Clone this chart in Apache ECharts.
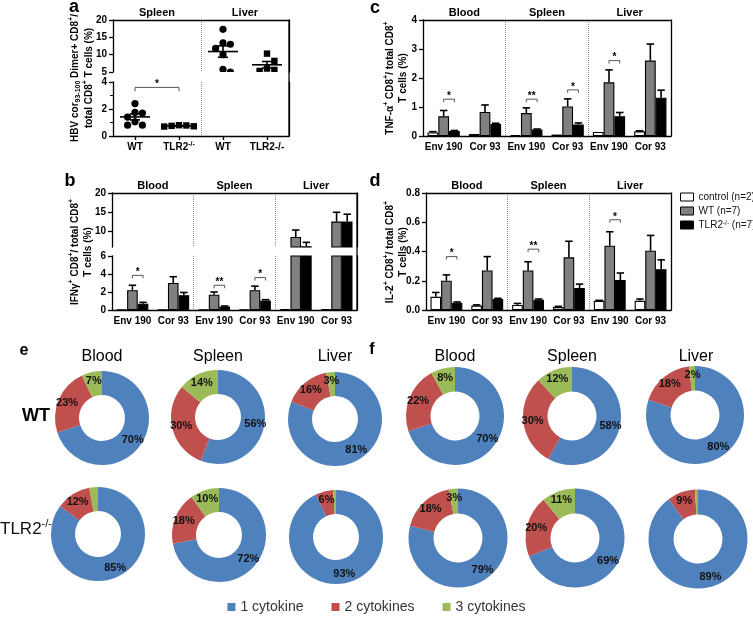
<!DOCTYPE html>
<html><head><meta charset="utf-8">
<script src="https://cdn.jsdelivr.net/npm/echarts@6/dist/echarts.min.js"></script>
<style>html,body{margin:0;padding:0;background:#fff}#c{width:753px;height:623px}</style>
</head><body><div id="c"></div>
<script>
// ---------------- DATA ----------------
// panel a (dimer+ CD8+ T cells, %)
const aTissues = ['Spleen', 'Liver'];
const aGroups = ['WT', 'TLR2-/-'];
const aSpleenWT = [2.4, 1.75, 1.7, 1.4, 1.05, 0.8, 0.8];
const aSpleenTLR2 = [0.8, 0.78, 0.75, 0.72, 0.7];
const aLiverWT = [17.3, 13.4, 13.0, 11.8, 10.0, 5.8, 5.0];
const aLiverTLR2 = [10.3, 8.2, 6.0, 5.6, 5.3];
const aSig = [[0, 1, 3.6, '*']];

// panels b-d
const tissues = ['Blood', 'Spleen', 'Liver'];
const peptides = ['Env 190', 'Cor 93'];
const seriesNames = ['control (n=2)', 'WT (n=7)', 'TLR2-/- (n=7)'];

// b: IFN-gamma
const ifnControl = [0.05, 0.05, 0.05, 0.05, 0.1, 0.1];
const ifnControlErr = [0, 0, 0, 0, 0, 0];
const ifnWT = [2.2, 3.0, 1.7, 2.2, 8.6, 12.6];
const ifnWTErr = [0.55, 0.7, 0.3, 0.45, 1.8, 2.4];
const ifnTLR2 = [0.7, 1.65, 0.4, 1.05, 6.2, 12.6];
const ifnTLR2Err = [0.15, 0.3, 0.05, 0.1, 1.0, 1.9];
const ifnSig = [[0, 3.85, '*'], [2, 2.75, '**'], [3, 3.6, '*']];

// c: TNF-alpha
const tnfControl = [0.12, 0.07, 0.03, 0.05, 0.14, 0.16];
const tnfControlErr = [0.03, 0, 0, 0, 0, 0.02];
const tnfWT = [0.68, 0.83, 0.79, 1.02, 1.85, 2.6];
const tnfWTErr = [0.2, 0.24, 0.18, 0.26, 0.43, 0.57];
const tnfTLR2 = [0.17, 0.41, 0.22, 0.4, 0.68, 1.32];
const tnfTLR2Err = [0.02, 0.03, 0.02, 0.05, 0.13, 0.26];
const tnfSig = [[0, 1.27, '*'], [2, 1.27, '**'], [3, 1.59, '*'], [4, 2.6, '*']];

// d: IL-2
const il2Control = [0.09, 0.03, 0.035, 0.02, 0.063, 0.063];
const il2ControlErr = [0.03, 0.005, 0.01, 0.005, 0.003, 0.012];
const il2WT = [0.2, 0.27, 0.27, 0.36, 0.44, 0.405];
const il2WTErr = [0.04, 0.095, 0.06, 0.11, 0.095, 0.105];
const il2TLR2 = [0.05, 0.075, 0.07, 0.15, 0.205, 0.278];
const il2TLR2Err = [0.005, 0.005, 0.005, 0.027, 0.048, 0.065];
const il2Sig = [[0, 0.365, '*'], [2, 0.416, '**'], [4, 0.617, '*']];

// e / f pies: [1 cytokine, 2 cytokines, 3 cytokines] for Blood, Spleen, Liver
const cytoNames = ['1 cytokine', '2 cytokines', '3 cytokines'];
const eWT = [[70, 23, 7], [56, 30, 14], [81, 16, 3]];
const eTLR2 = [[85, 12, 3], [72, 18, 10], [93, 6, 1]];
const fWT = [[70, 22, 8], [58, 30, 12], [80, 18, 2]];
const fTLR2 = [[79, 18, 3], [69, 20, 11], [89, 9, 1]];

// ---------------- HELPERS ----------------
const F = "'Liberation Sans', Arial, Helvetica, sans-serif";
const pieColors = ['#4f81bd', '#c0504d', '#9bbb59'];
const aCats = aTissues.flatMap(t => aGroups.map(g => t + '|' + g));
const aData = [aSpleenWT, aSpleenTLR2, aLiverWT, aLiverTLR2];
const barCats = tissues.flatMap(t => peptides.map(p => t + '|' + p));
const CAT_GAP = 0.22;

const mean = a => a.reduce((s, v) => s + v, 0) / a.length;
const sem = a => { const m = mean(a); return Math.sqrt(a.reduce((s, v) => s + (v - m) * (v - m), 0) / (a.length - 1)) / Math.sqrt(a.length); };

function swarm(ys, d) {
  const placed = [], offs = [];
  const cand = [0, 1, -1, 2, -2, 3, -3].map(m => m * d);
  ys.forEach(y => {
    let best = cand[cand.length - 1];
    for (const o of cand) {
      if (placed.every(p => Math.hypot(p[0] - o, p[1] - y) >= d)) { best = o; break; }
    }
    placed.push([best, y]); offs.push(best);
  });
  return offs;
}

const AX = '#000';
const divider = { show: true, interval: i => i % 2 === 0, lineStyle: { color: '#888', type: 'dotted', width: 1 } };
const RICH_E = { sup: { fontSize: 7, fontWeight: 'bold', fontFamily: F, color: '#000', verticalAlign: 'top', lineHeight: 6 } };

function xHidden(grid, data) {
  return { type: 'category', gridIndex: grid, data, position: 'bottom',
    axisLine: { show: false }, axisTick: { show: false }, axisLabel: { show: false }, splitLine: divider };
}
function xTop(grid, data) {
  return { type: 'category', gridIndex: grid, data, position: 'top',
    axisLine: { show: true, onZero: false, lineStyle: { color: AX, width: 1.3 } },
    axisTick: { show: false },
    axisLabel: { margin: 2, fontFamily: F, fontSize: 11, fontWeight: 'bold', color: '#000' },
    splitLine: { show: false } };
}
function xBottom(grid, data, fmt, ticks) {
  return { type: 'category', gridIndex: grid, data, position: 'bottom',
    axisLine: { show: true, onZero: false, lineStyle: { color: AX, width: 1.3 } },
    axisTick: { show: ticks, alignWithLabel: true, length: 4, lineStyle: { color: AX, width: 1.3 } },
    axisLabel: { margin: 5, interval: 0, fontFamily: F, fontSize: 10, fontWeight: 'bold', color: '#000', lineHeight: 13, formatter: fmt, rich: RICH_E },
    splitLine: divider };
}
function yLeft(grid, min, max, interval, opts) {
  opts = opts || {};
  const lab = Object.assign({ margin: 6, fontFamily: F, fontSize: 10, fontWeight: 'bold', color: '#000' }, opts.label || {});
  const tick = Object.assign({ show: true, length: 4, lineStyle: { color: AX, width: 1.3 } }, opts.tick || {});
  const ax = { type: 'value', gridIndex: grid, min, max, position: 'left',
    axisLine: { show: true, onZero: false, lineStyle: { color: AX, width: 1.3 } },
    axisTick: tick, axisLabel: lab, splitLine: { show: false } };
  if (interval !== undefined) ax.interval = interval;
  if (opts.minor) ax.minorTick = { show: true, splitNumber: 2, length: 3, lineStyle: { color: AX, width: 1 } };
  return ax;
}
function yRight(grid, min, max) {
  return { type: 'value', gridIndex: grid, min, max, position: 'right',
    axisLine: { show: true, onZero: false, lineStyle: { color: AX, width: 1.3 } },
    axisTick: { show: false }, axisLabel: { show: false }, splitLine: { show: false } };
}

// ---- panel a series ----
function pointSeries(xIdx, yIdx, lo, hi) {
  const d = [];
  aData.forEach((arr, c) => arr.forEach((v, k) => { if (v >= lo && v <= hi) d.push([c, v, k]); }));
  return { type: 'custom', xAxisIndex: xIdx, yAxisIndex: yIdx, silent: true, clip: true, z: 5,
    encode: { x: 0, y: 1 }, data: d,
    renderItem(params, api) {
      const c = api.value(0), v = api.value(1), k = api.value(2);
      const ys = aData[c].map(u => api.coord([c, u])[1]);
      const off = swarm(ys, 7.4)[k];
      const p = api.coord([c, v]);
      const x = p[0] + off;
      if (c % 2 === 0) return { type: 'circle', shape: { cx: x, cy: p[1], r: 3.6 }, style: { fill: '#000' } };
      return { type: 'rect', shape: { x: x - 3.2, y: p[1] - 3.2, width: 6.4, height: 6.4 }, style: { fill: '#000' } };
    } };
}
function meanSeries(xIdx, yIdx, lo, hi) {
  const d = [];
  aData.forEach((arr, c) => { const m = mean(arr); if (m >= lo && m <= hi) d.push([c, m, sem(arr)]); });
  return { type: 'custom', xAxisIndex: xIdx, yAxisIndex: yIdx, silent: true, clip: true, z: 6,
    encode: { x: 0, y: 1 }, data: d,
    renderItem(params, api) {
      const c = api.value(0), m = api.value(1), s = api.value(2);
      const pm = api.coord([c, m]), pt = api.coord([c, m + s]), pb = api.coord([c, m - s]);
      const st = { stroke: '#000', lineWidth: 1.6 };
      return { type: 'group', children: [
        { type: 'line', shape: { x1: pm[0] - 15, y1: pm[1], x2: pm[0] + 15, y2: pm[1] }, style: st },
        { type: 'line', shape: { x1: pm[0], y1: pt[1], x2: pm[0], y2: pb[1] }, style: st },
        { type: 'line', shape: { x1: pm[0] - 5, y1: pt[1], x2: pm[0] + 5, y2: pt[1] }, style: st },
        { type: 'line', shape: { x1: pm[0] - 5, y1: pb[1], x2: pm[0] + 5, y2: pb[1] }, style: st }
      ] };
    } };
}
function aSigSeries(xIdx, yIdx) {
  return { type: 'custom', xAxisIndex: xIdx, yAxisIndex: yIdx, silent: true, z: 6,
    encode: { x: 0, y: 2 }, data: aSig.map(s => [s[0], s[1], s[2]]),
    renderItem(params, api) {
      const p1 = api.coord([api.value(0), api.value(2)]), p2 = api.coord([api.value(1), api.value(2)]);
      const y = p1[1];
      return { type: 'group', children: [
        { type: 'polyline', shape: { points: [[p1[0], y + 4], [p1[0], y], [p2[0], y], [p2[0], y + 4]] }, style: { stroke: '#555', lineWidth: 1, fill: null } },
        { type: 'text', x: (p1[0] + p2[0]) / 2, y: y + 2, style: { text: aSig[params.dataIndex][3], fontSize: 10, fontWeight: 'bold', fontFamily: F, fill: '#000', align: 'center', verticalAlign: 'bottom' } }
      ] };
    } };
}

// ---- bar panel series ----
const barStyles = [
  { color: '#ffffff', borderColor: '#000', borderWidth: 1.1 },
  { color: '#808080', borderColor: '#000', borderWidth: 1.1 },
  { color: '#000000', borderColor: '#000', borderWidth: 1.1 }
];
function barPanel(xIdx, yIdx, vals, errs, sig, lo) {
  const out = [];
  vals.forEach((arr, s) => out.push({ type: 'bar', name: seriesNames[s], xAxisIndex: xIdx, yAxisIndex: yIdx,
    data: arr, barGap: '0%', barCategoryGap: (CAT_GAP * 100) + '%', itemStyle: barStyles[s], silent: true, z: 2 }));
  const eb = [];
  vals.forEach((arr, s) => arr.forEach((v, i) => { if (errs[s][i] > 0 && v + errs[s][i] > lo) eb.push([i, v, errs[s][i], s]); }));
  out.push({ type: 'custom', xAxisIndex: xIdx, yAxisIndex: yIdx, silent: true, clip: true, z: 3,
    encode: { x: 0, y: 1 }, data: eb,
    renderItem(params, api) {
      const c = api.value(0), v = api.value(1), e = api.value(2), s = api.value(3);
      const w = api.size([1, 0])[0] * (1 - CAT_GAP) / 3;
      const cx = api.coord([c, v])[0] + (s - 1) * w;
      const y0 = api.coord([c, v])[1], y1 = api.coord([c, v + e])[1];
      const st = { stroke: '#000', lineWidth: 1.6 };
      return { type: 'group', children: [
        { type: 'line', shape: { x1: cx, y1: y0, x2: cx, y2: y1 }, style: st },
        { type: 'line', shape: { x1: cx - w * 0.35, y1: y1, x2: cx + w * 0.35, y2: y1 }, style: st }
      ] };
    } });
  if (sig) {
    out.push({ type: 'custom', xAxisIndex: xIdx, yAxisIndex: yIdx, silent: true, z: 4,
      encode: { x: 0, y: 1 }, data: sig.map(s => [s[0], s[1]]),
      renderItem(params, api) {
        const c = api.value(0), y = api.value(1);
        const w = api.size([1, 0])[0] * (1 - CAT_GAP) / 3;
        const p = api.coord([c, y]);
        const x1 = p[0], x2 = p[0] + w, yy = p[1];
        return { type: 'group', children: [
          { type: 'polyline', shape: { points: [[x1, yy + 3], [x1, yy], [x2, yy], [x2, yy + 3]] }, style: { stroke: '#555', lineWidth: 1, fill: null } },
          { type: 'text', x: (x1 + x2) / 2, y: yy + 2, style: { text: sig[params.dataIndex][2], fontSize: 10, fontWeight: 'bold', fontFamily: F, fill: '#000', align: 'center', verticalAlign: 'bottom' } }
        ] };
      } });
  }
  return out;
}

// ---- pies ----
function pie(vals, center, radius) {
  return { type: 'pie', center, radius, startAngle: 90, clockwise: true, silent: true,
    data: vals.map((v, i) => ({ name: cytoNames[i], value: v, itemStyle: { color: pieColors[i] } })),
    label: { show: true, position: 'inside', formatter: '{c}%', fontFamily: F, fontSize: 11, fontWeight: 'bold', color: '#111' },
    labelLine: { show: false }, emphasis: { disabled: true } };
}

// ---- texts ----
const RT = {
  b: { fontSize: 10, fontWeight: 'bold', fontFamily: F, lineHeight: 14, fill: '#000' },
  sp: { fontSize: 7, fontWeight: 'bold', fontFamily: F, lineHeight: 6, verticalAlign: 'top', fill: '#000' },
  sb: { fontSize: 7, fontWeight: 'bold', fontFamily: F, lineHeight: 6, verticalAlign: 'bottom', fill: '#000' },
  n: { fontSize: 17, fontWeight: 'normal', fontFamily: F, lineHeight: 22, fill: '#111' },
  ns: { fontSize: 11, fontWeight: 'normal', fontFamily: F, lineHeight: 10, verticalAlign: 'top', fill: '#111' }
};
function T(x, y, text, size, weight) {
  return { type: 'text', x, y, silent: true, style: { text, fontSize: size, fontWeight: weight, fontFamily: F, fill: '#000', align: 'center', verticalAlign: 'middle' } };
}
function VT(x, y, text) {
  return { type: 'text', x, y, rotation: Math.PI / 2, silent: true, style: { text, rich: RT, align: 'center', verticalAlign: 'middle' } };
}
function frameLine(x, y1, y2) {
  return { type: 'line', silent: true, shape: { x1: x, y1, x2: x, y2 }, style: { stroke: '#000', lineWidth: 1.3 } };
}

const barFmt = v => v.split('|')[1];
const aFmt = v => {
  const g = v.split('|')[1];
  if (g === 'TLR2-/-') return v.startsWith('Spleen') ? 'TLR2{sup|-/-}' : 'TLR2-/-';
  return g;
};

// ---------------- OPTION ----------------
const option = {
  animation: false,
  grid: [
    { left: 113, top: 20, width: 176, height: 52 },   // 0 a top
    { left: 113, top: 82, width: 176, height: 54 },   // 1 a bottom
    { left: 423, top: 20, width: 248, height: 116 },  // 2 c
    { left: 112, top: 193, width: 245, height: 54 },  // 3 b top
    { left: 112, top: 256, width: 245, height: 54 },  // 4 b bottom
    { left: 426, top: 193, width: 245, height: 117 }  // 5 d
  ],
  xAxis: [
    xHidden(0, aCats),                 // 0
    xTop(0, aTissues),                 // 1
    xBottom(1, aCats, aFmt, true),     // 2
    xBottom(2, barCats, barFmt, false),// 3
    xTop(2, tissues),                  // 4
    xHidden(3, barCats),               // 5
    xTop(3, tissues),                  // 6
    xBottom(4, barCats, barFmt, false),// 7
    xBottom(5, barCats, barFmt, false),// 8
    xTop(5, tissues)                   // 9
  ],
  yAxis: [
    yLeft(0, 5, 20, 5),                // 0
    yRight(0, 5, 20),                  // 1
    yLeft(1, 0, 4, 2, { minor: true }),// 2
    yRight(1, 0, 4),                   // 3
    yLeft(2, 0, 4, 1),                 // 4
    yRight(2, 0, 4),                   // 5
    yLeft(3, 6, 20, undefined, { label: { customValues: [10, 15, 20] }, tick: { customValues: [10, 15, 20] } }), // 6
    yRight(3, 6, 20),                  // 7
    yLeft(4, 0, 6, 2),                 // 8
    yRight(4, 0, 6),                   // 9
    yLeft(5, 0, 0.8, 0.2, { label: { formatter: v => v.toFixed(1) } }), // 10
    yRight(5, 0, 0.8)                  // 11
  ],
  legend: [
    { data: seriesNames, orient: 'vertical', left: 680, top: 192, padding: 0, itemWidth: 13, itemHeight: 8, itemGap: 4,
      icon: 'rect', selectedMode: false, itemStyle: { borderColor: '#000', borderWidth: 1 },
      formatter: n => n.replace('TLR2-/-', 'TLR2{sup|-/-}'),
      textStyle: { fontFamily: F, fontSize: 10, color: '#111',
        rich: { sup: { fontSize: 6.5, fontFamily: F, color: '#111', verticalAlign: 'top', lineHeight: 5 } } } },
    { data: cytoNames, orient: 'horizontal', left: 'center', top: 600, padding: 0, itemWidth: 8, itemHeight: 8, itemGap: 28,
      icon: 'rect', selectedMode: false, textStyle: { fontFamily: F, fontSize: 14, color: '#333' } }
  ],
  series: [
    pointSeries(0, 0, 5, 20), pointSeries(2, 2, 0, 4),
    meanSeries(0, 0, 5, 20), meanSeries(2, 2, 0, 4),
    aSigSeries(2, 2),
    ...barPanel(3, 4, [tnfControl, tnfWT, tnfTLR2], [tnfControlErr, tnfWTErr, tnfTLR2Err], tnfSig, 0),
    ...barPanel(5, 6, [ifnControl, ifnWT, ifnTLR2], [ifnControlErr, ifnWTErr, ifnTLR2Err], null, 6),
    ...barPanel(7, 8, [ifnControl, ifnWT, ifnTLR2], [ifnControlErr, ifnWTErr, ifnTLR2Err], ifnSig, 0),
    ...barPanel(8, 10, [il2Control, il2WT, il2TLR2], [il2ControlErr, il2WTErr, il2TLR2Err], il2Sig, 0),
    pie(eWT[0], [102, 418], [23, 47]), pie(eWT[1], [218, 417], [23, 47]), pie(eWT[2], [335, 419], [23, 47]),
    pie(eTLR2[0], [98, 534], [23, 47]), pie(eTLR2[1], [219, 535], [23, 47]), pie(eTLR2[2], [336, 537], [23, 47]),
    pie(fWT[0], [455, 416], [24.5, 49]), pie(fWT[1], [572, 416], [24.5, 49]), pie(fWT[2], [695, 415], [24.5, 49]),
    pie(fTLR2[0], [458, 538], [24.5, 49.5]), pie(fTLR2[1], [575, 538], [24.5, 49.5]), pie(fTLR2[2], [698, 539], [24.5, 49.5])
  ],
  graphic: [
    frameLine(289, 20, 136), frameLine(357, 193, 310),
    T(74, 7, 'a', 18, 'bold'), T(375, 8, 'c', 18, 'bold'), T(70, 181, 'b', 18, 'bold'), T(375, 181, 'd', 18, 'bold'),
    T(24, 351, 'e', 16, 'bold'), T(372, 350, 'f', 16, 'bold'),
    VT(75, 78, '{b|HBV cor}{sb|93-100}{b| Dimer+ CD8}{sp|+}{b|/}'),
    VT(89, 78, '{b|total CD8}{sp|+}{b| T cells (%)}'),
    VT(390, 78, '{b|TNF-α}{sp|+}{b| CD8}{sp|+}{b|/ total CD8}{sp|+}'),
    VT(403, 78, '{b|T cells (%)}'),
    VT(75, 252, '{b|IFNγ}{sp|+}{b| CD8}{sp|+}{b|/ total CD8}{sp|+}'),
    VT(88, 252, '{b|T cells (%)}'),
    VT(390, 252, '{b|IL-2}{sp|+}{b| CD8}{sp|+}{b|/ total CD8}{sp|+}'),
    VT(403, 252, '{b|T cells (%)}'),
    T(102, 357, 'Blood', 16, 'normal'), T(218, 357, 'Spleen', 16, 'normal'), T(335, 357, 'Liver', 16, 'normal'),
    T(455, 357, 'Blood', 16, 'normal'), T(572, 357, 'Spleen', 16, 'normal'), T(696, 357, 'Liver', 16, 'normal'),
    T(36, 416, 'WT', 18, 'bold'),
    { type: 'text', x: 26, y: 529, silent: true, style: { text: '{n|TLR2}{ns|-/-}', rich: RT, align: 'center', verticalAlign: 'middle' } }
  ]
};

const chart = echarts.init(document.getElementById('c'), null, { renderer: 'canvas' });
chart.setOption(option);
</script>
</body></html>
